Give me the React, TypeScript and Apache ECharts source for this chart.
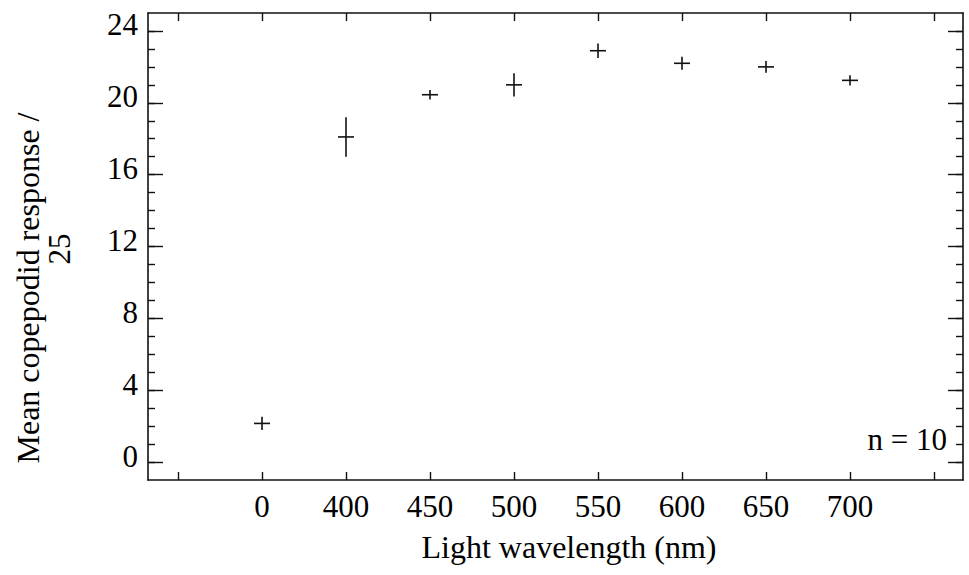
import React, { useEffect, useRef } from "react";
import * as echarts from "echarts";

const wavelengths = ["0", "400", "450", "500", "550", "600", "650", "700"];
const means = [2.15, 18.1, 20.45, 21.0, 22.9, 22.2, 22.0, 21.25];
const errors = [0.37, 1.1, 0.27, 0.65, 0.4, 0.36, 0.33, 0.28];
const xTickIdx = [-1, 0, 1, 2, 3, 4, 5, 6, 7, 8];
const xLabelIdx = [0, 1, 2, 3, 4, 5, 6, 7];
const yMajor = [0, 4, 8, 12, 16, 20, 24];
const yMinor = [0, 1, 2, 3, 4, 5, 6, 7, 8, 9, 10, 11, 12, 13, 14, 15, 16, 17, 18, 19, 20, 21, 22, 23, 24];
const yTitle1 = "Mean copepodid response /";
const yTitle2 = "25";
const xTitle = "Light wavelength (nm)";
const note = "n = 10";

const FONT = "'Liberation Serif', 'DejaVu Serif', serif";
const INK = "#111";

export default function App() {
  const ref = useRef<HTMLDivElement>(null);
  useEffect(() => {
    if (!ref.current) return;
    const chart = echarts.init(ref.current, undefined, { renderer: "svg" });
    const line = { show: true, lineStyle: { color: INK, width: 1.6 } };
    const xBase = (pos: string, labels: boolean) => ({
      type: "value",
      position: pos,
      min: -1.357,
      max: 8.345,
      axisLine: { ...line, onZero: false },
      axisTick: { show: true, inside: true, length: 8, customValues: xTickIdx, lineStyle: { color: INK, width: 1.4 } },
      axisLabel: labels
        ? {
            show: true,
            customValues: xLabelIdx,
            formatter: (v: number) => wavelengths[Math.round(v)] ?? "",
            fontFamily: FONT,
            fontSize: 31,
            color: "#000",
            margin: 11,
          }
        : { show: false },
      splitLine: { show: false },
    });
    const yBase = (pos: string, major: boolean, labels: boolean, showLine: boolean) => ({
      type: "value",
      position: pos,
      min: -1,
      max: 25,
      axisLine: { ...line, show: showLine, onZero: false },
      axisTick: {
        show: true,
        inside: true,
        length: major ? 15 : 7,
        customValues: major ? yMajor : yMinor,
        lineStyle: { color: INK, width: 1.4 },
      },
      axisLabel: labels
        ? {
            show: true,
            customValues: yMajor,
            fontFamily: FONT,
            fontSize: 31,
            color: "#000",
            margin: 10,
            verticalAlign: "bottom",
            lineHeight: 12,
          }
        : { show: false },
      splitLine: { show: false },
    });
    chart.setOption({
      animation: false,
      backgroundColor: "#fff",
      grid: { left: 148, right: 6, top: 13, bottom: 95, containLabel: false },
      xAxis: [xBase("bottom", true), xBase("top", false)],
      yAxis: [
        yBase("left", true, true, true),
        yBase("left", false, false, false),
        yBase("right", true, false, true),
        yBase("right", false, false, false),
      ],
      series: [
        {
          type: "custom",
          xAxisIndex: 0,
          yAxisIndex: 0,
          data: means.map((m, i) => [i, m, errors[i]]),
          renderItem: (params: any, api: any) => {
            const x = api.value(0);
            const y = api.value(1);
            const e = api.value(2);
            const c = api.coord([x, y]);
            const t = api.coord([x, y + e]);
            const b = api.coord([x, y - e]);
            const st = { stroke: INK, lineWidth: 1.6 };
            return {
              type: "group",
              children: [
                { type: "line", shape: { x1: c[0] - 8, y1: c[1], x2: c[0] + 8, y2: c[1] }, style: st },
                { type: "line", shape: { x1: c[0], y1: t[1], x2: c[0], y2: b[1] }, style: st },
              ],
            };
          },
        },
      ],
      graphic: [
        {
          type: "text",
          x: 28,
          y: 288,
          rotation: Math.PI / 2,
          style: { text: yTitle1, font: `32px ${FONT}`, fill: "#000", align: "center", verticalAlign: "middle" },
        },
        {
          type: "text",
          x: 59,
          y: 249,
          rotation: Math.PI / 2,
          style: { text: yTitle2, font: `31px ${FONT}`, fill: "#000", align: "center", verticalAlign: "middle" },
        },
        {
          type: "text",
          x: 569,
          y: 547,
          style: { text: xTitle, font: `32px ${FONT}`, fill: "#000", align: "center", verticalAlign: "middle" },
        },
        {
          type: "text",
          x: 947,
          y: 439,
          style: { text: note, font: `31px ${FONT}`, fill: "#000", align: "right", verticalAlign: "middle" },
        },
      ],
    });
    return () => chart.dispose();
  }, []);
  return <div ref={ref} style={{ position: "absolute", left: 0, top: 0, width: 969, height: 575 }} />;
}
